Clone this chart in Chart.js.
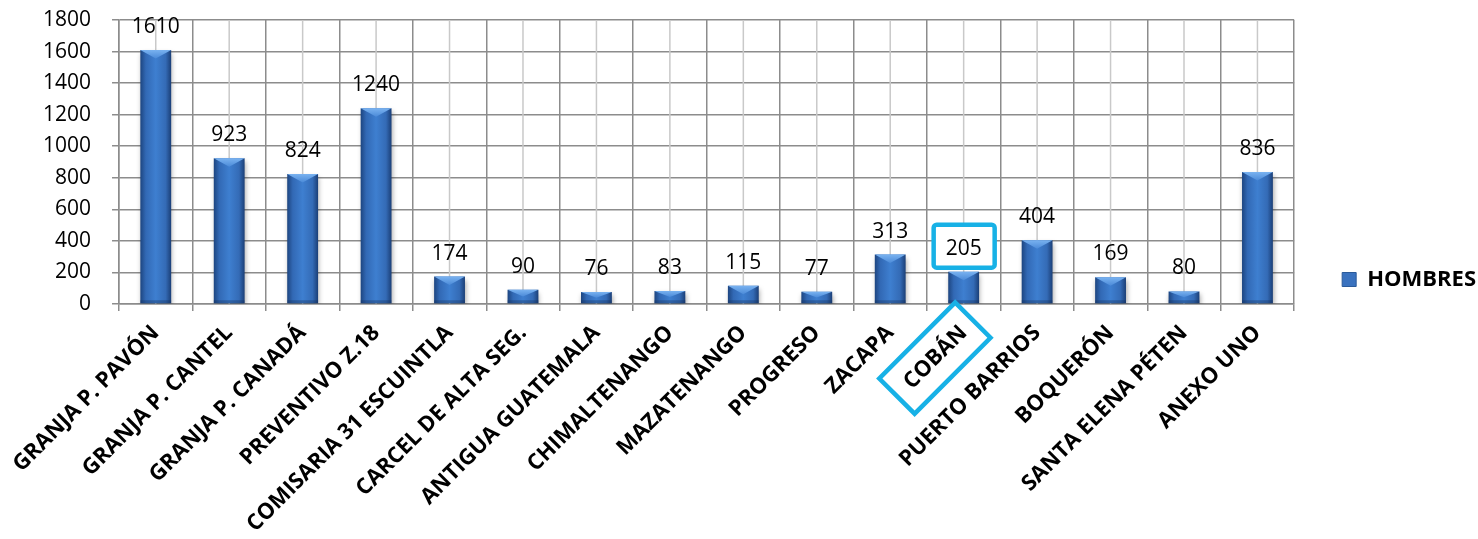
<!DOCTYPE html>
<html>
<head>
<meta charset="utf-8">
<script src="https://cdn.jsdelivr.net/npm/chart.js@4/dist/chart.umd.min.js"></script>
<style>
  html, body { margin: 0; padding: 0; background: #fff; }
  #wrap { width: 1478px; height: 539px; }
</style>
</head>
<body>
<div id="wrap"><canvas id="chart"></canvas></div>
<script>
// Population per centre (men)
const categories = ['GRANJA P. PAVÓN', 'GRANJA P. CANTEL', 'GRANJA P. CANADÁ', 'PREVENTIVO Z.18',
    'COMISARIA 31 ESCUINTLA', 'CARCEL DE ALTA SEG.', 'ANTIGUA GUATEMALA', 'CHIMALTENANGO',
    'MAZATENANGO', 'PROGRESO', 'ZACAPA', 'COBÁN', 'PUERTO BARRIOS', 'BOQUERÓN',
    'SANTA ELENA PÉTEN', 'ANEXO UNO'];
const hombres = [1610, 923, 824, 1240, 174, 90, 76, 83, 115, 77, 313, 205, 404, 169, 80, 836];
const yTicks = [0, 200, 400, 600, 800, 1000, 1200, 1400, 1600, 1800];
const seriesName = 'HOMBRES';
const highlighted = 'COBÁN';

const FONT = '"Open Sans", "Noto Sans", sans-serif';
const BAR_PCT = 0.42;
const CYAN = '#17b1e6';

// horizontal gradient for each bar (dark edges, lighter middle)
function barFill(ctx) {
    const chart = ctx.chart;
    const xs = chart.scales.x;
    if (ctx.type !== 'data' || !xs || !chart.chartArea) return '#3a72bf';
    const cx = xs.getPixelForValue(ctx.dataIndex);
    const half = xs.width / categories.length * BAR_PCT / 2;
    const g = chart.ctx.createLinearGradient(cx - half, 0, cx + half, 0);
    g.addColorStop(0, '#1d4580');
    g.addColorStop(0.18, '#3269b5');
    g.addColorStop(0.5, '#3e7fd0');
    g.addColorStop(0.82, '#346bb6');
    g.addColorStop(1, '#1b3f77');
    return g;
}

// light grid lines through category centres + bar shadow
const centreLines = {
    id: 'centreLines',
    beforeDatasetsDraw(chart) {
        const { ctx, chartArea } = chart;
        const xs = chart.scales.x;
        ctx.save();
        ctx.strokeStyle = '#c9c9c9';
        ctx.lineWidth = 1.5;
        categories.forEach((c, i) => {
            const x = xs.getPixelForValue(i);
            ctx.beginPath();
            ctx.moveTo(x, chartArea.top);
            ctx.lineTo(x, chartArea.bottom);
            ctx.stroke();
        });
        ctx.restore();
    },
    beforeDatasetDraw(chart) {
        const ctx = chart.ctx;
        ctx.save();
        ctx.shadowColor = 'rgba(0,0,0,0.35)';
        ctx.shadowBlur = 5;
        ctx.shadowOffsetX = 1;
        ctx.shadowOffsetY = 3;
    },
    afterDatasetDraw(chart) {
        chart.ctx.restore();
    }
};

// bevels on the bars, value labels and the cyan marks
const barDecor = {
    id: 'barDecor',
    afterDatasetsDraw(chart) {
        const ctx = chart.ctx;
        const meta = chart.getDatasetMeta(0);
        ctx.save();
        meta.data.forEach((bar) => {
            const half = bar.width / 2;
            const l = bar.x - half, r = bar.x + half;
            const d = Math.min(half * 0.55, (bar.base - bar.y) / 2);
            const gt = ctx.createLinearGradient(0, bar.y, 0, bar.y + d);
            gt.addColorStop(0, '#79b2f0');
            gt.addColorStop(1, '#4b8ad8');
            ctx.fillStyle = gt;
            ctx.beginPath();
            ctx.moveTo(l, bar.y);
            ctx.lineTo(r, bar.y);
            ctx.lineTo(bar.x, bar.y + d);
            ctx.closePath();
            ctx.fill();
            // darker bottom edge
            ctx.fillStyle = 'rgba(20,45,90,0.35)';
            ctx.fillRect(l, bar.base - 3, bar.width, 3);
        });

        ctx.font = '21px ' + FONT;
        ctx.textAlign = 'center';
        ctx.textBaseline = 'alphabetic';
        meta.data.forEach((bar, i) => {
            const ty = bar.y - 17;
            if (categories[i] === highlighted) {
                ctx.fillStyle = '#fff';
                ctx.strokeStyle = CYAN;
                ctx.lineWidth = 4.5;
                ctx.beginPath();
                ctx.roundRect(bar.x - 30, ty - 30, 61, 43, 3);
                ctx.fill();
                ctx.stroke();
            }
            ctx.fillStyle = '#000';
            ctx.fillText(String(hombres[i]), bar.x, ty);
        });
        ctx.restore();
    },
    afterDraw(chart) {
        const xs = chart.scales.x;
        const idx = categories.indexOf(highlighted);
        const it = xs.getLabelItems()[idx];
        if (!it) return;
        const ctx = chart.ctx;
        const [tx, ty] = it.options.translation;
        ctx.save();
        ctx.translate(tx, ty);
        ctx.rotate(it.options.rotation);
        ctx.font = it.font.string;
        const w = ctx.measureText(it.label).width;
        const cy = it.textOffset;
        ctx.strokeStyle = CYAN;
        ctx.lineWidth = 4.5;
        ctx.beginPath();
        ctx.rect(-w - 15, cy - 25, w + 28, 50);
        ctx.stroke();
        ctx.restore();
    }
};

Chart.defaults.font.family = FONT;
Chart.defaults.color = '#000';

new Chart(document.getElementById('chart'), {
    type: 'bar',
    data: {
        labels: categories,
        datasets: [{
            label: seriesName,
            data: hombres,
            backgroundColor: barFill,
            borderWidth: 0,
            categoryPercentage: 1,
            barPercentage: BAR_PCT
        }]
    },
    options: {
        responsive: true,
        maintainAspectRatio: false,
        animation: false,
        layout: { padding: { left: 22, top: 20, right: -8, bottom: 0 } },
        scales: {
            x: {
                grid: { offset: true, color: '#8c8c8c', lineWidth: 1.5, tickLength: 7 },
                border: { color: '#8c8c8c', width: 1.5 },
                ticks: {
                    autoSkip: false,
                    minRotation: 45,
                    maxRotation: 45,
                    padding: 9,
                    color: '#000',
                    font: { size: 22, weight: 'bold' }
                },
                afterFit(scale) {
                    scale.height = 235;
                    scale.paddingLeft = 0;
                    scale.paddingRight = 0;
                }
            },
            y: {
                min: 0,
                max: 1800,
                afterBuildTicks(scale) { scale.ticks = yTicks.map(v => ({ value: v })); },
                afterFit(scale) {
                    scale.paddingTop = 0;
                    scale.paddingBottom = 0;
                },
                grid: { color: '#8c8c8c', lineWidth: 1.5, tickLength: 7 },
                border: { color: '#8c8c8c', width: 1.5 },
                ticks: {
                    padding: 21,
                    color: '#000',
                    font: { size: 21 },
                    callback: (v) => String(v)
                }
            }
        },
        plugins: {
            tooltip: { enabled: false },
            legend: {
                position: 'right',
                labels: {
                    boxWidth: 14,
                    boxHeight: 14,
                    padding: 48,
                    color: '#000',
                    font: { size: 22, weight: 'bold' },
                    generateLabels() {
                        return [{ text: seriesName, fillStyle: '#3a72bf', strokeStyle: '#2a5a9a', lineWidth: 1, datasetIndex: 0 }];
                    }
                }
            }
        }
    },
    plugins: [centreLines, barDecor]
});
</script>
</body>
</html>
